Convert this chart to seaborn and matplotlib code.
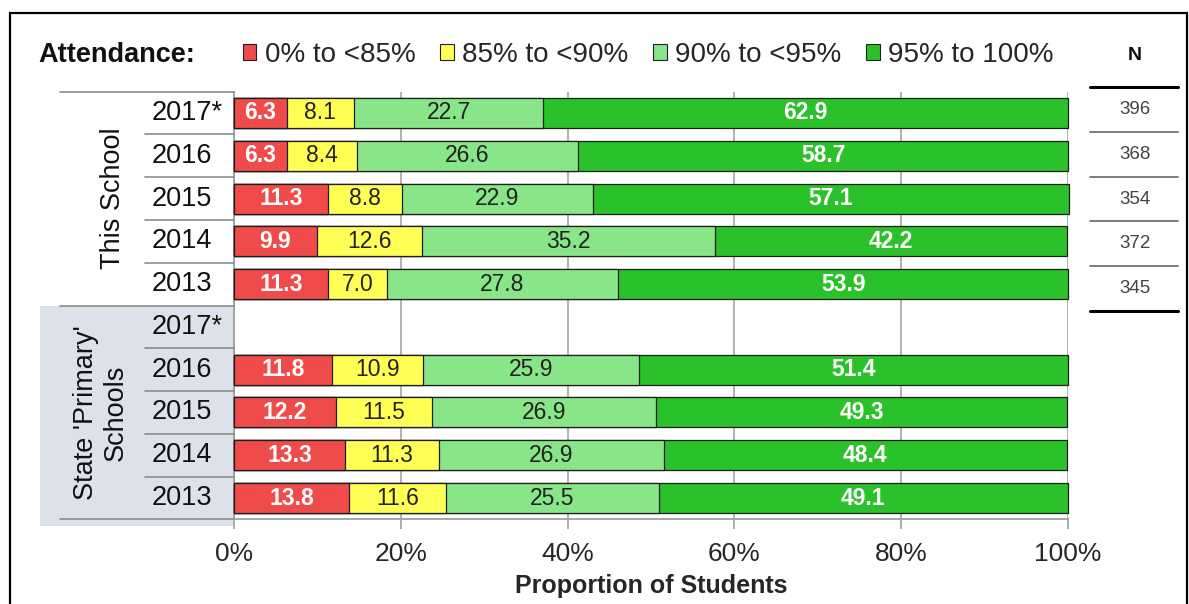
import numpy as np
import pandas as pd
import matplotlib
matplotlib.use("Agg")
import matplotlib.pyplot as plt
import seaborn as sns
from matplotlib.patches import Rectangle, Patch
from matplotlib.lines import Line2D
import matplotlib.transforms as mtransforms

# ---------------- data ----------------
groups = ["This School", "State 'Primary'\nSchools"]
years = ["2017*", "2016", "2015", "2014", "2013"]
bands = ["0% to <85%", "85% to <90%", "90% to <95%", "95% to 100%"]

school_lt85 = [6.3, 6.3, 11.3, 9.9, 11.3]
school_85_90 = [8.1, 8.4, 8.8, 12.6, 7.0]
school_90_95 = [22.7, 26.6, 22.9, 35.2, 27.8]
school_95_100 = [62.9, 58.7, 57.1, 42.2, 53.9]

state_lt85 = [None, 11.8, 12.2, 13.3, 13.8]
state_85_90 = [None, 10.9, 11.5, 11.3, 11.6]
state_90_95 = [None, 25.9, 26.9, 26.9, 25.5]
state_95_100 = [None, 51.4, 49.3, 48.4, 49.1]

n_students = [396, 368, 354, 372, 345]
n_header = "N"

x_ticks = [0, 20, 40, 60, 80, 100]
x_ticklabels = ["0%", "20%", "40%", "60%", "80%", "100%"]
x_label = "Proportion of Students"
legend_title = "Attendance:"

# ---------------- styles ----------------
colors = ["#f04b4b", "#ffff55", "#88e588", "#2bc12b"]
label_colors = ["white", "#222222", "#222222", "white"]
label_weights = ["bold", "normal", "normal", "bold"]

sns.set_style("white")
plt.rcParams["font.family"] = ["Liberation Sans", "DejaVu Sans"]

W, H = 1189, 604
fig = plt.figure(figsize=(W / 100, H / 100), dpi=100)
ax = fig.add_axes([234 / W, 1 - 519.4 / H, (1068 - 234) / W, (519.4 - 91.6) / H])

# ---------------- long table ----------------
series = {
    0: [school_lt85, school_85_90, school_90_95, school_95_100],
    1: [state_lt85, state_85_90, state_90_95, state_95_100],
}
row_ids = []
records = []
for g in range(2):
    for yi, yr in enumerate(years):
        rid = f"{g}|{yr}"
        row_ids.append(rid)
        start = 0.0
        for b in range(4):
            v = series[g][b][yi]
            if v is None:
                continue
            records.append(dict(row=rid, band=b, value=v, start=start, end=start + v))
            start += v
df = pd.DataFrame(records)

# stacked bars: overlay cumulative ends, longest first
for b in [3, 2, 1, 0]:
    sub = df[df["band"] == b]
    sns.barplot(data=sub, x="end", y="row", order=row_ids, orient="h",
                color=colors[b], saturation=1, edgecolor="#1e1e1e", linewidth=0.9,
                width=0.7, errorbar=None, ax=ax, zorder=3)
for p in ax.patches:
    p.set_clip_on(False)

# segment labels
pos = {rid: i for i, rid in enumerate(row_ids)}
for _, r in df.iterrows():
    b = int(r["band"])
    ax.text((r["start"] + r["end"]) / 2, pos[r["row"]], f"{r['value']:.1f}",
            ha="center", va="center", fontsize=16.5, color=label_colors[b],
            fontweight=label_weights[b], zorder=5)

ax.set_xlim(0, 100)
ax.set_ylim(9.5, -0.5)
ax.set_yticks([])
ax.set_ylabel("")
ax.set_xticks(x_ticks)
ax.set_xticklabels(x_ticklabels, fontsize=19)
ax.set_xlabel(x_label, fontsize=18, fontweight="bold", labelpad=6)
ax.tick_params(axis="x", bottom=True, length=7, width=1.2, color="#a0a0a0", pad=9)
ax.grid(axis="x", color="#a6a6a6", lw=1.2)
ax.grid(axis="y", visible=False)
ax.set_axisbelow(True)
for s in ["top", "right"]:
    ax.spines[s].set_visible(False)
for s in ["left", "bottom"]:
    ax.spines[s].set_color("#a0a0a0")
    ax.spines[s].set_linewidth(1.3)

# ---------------- label panel ----------------
trans = mtransforms.blended_transform_factory(fig.transFigure, ax.transData)
fig.add_artist(Rectangle((40 / W, 4.5), (234 - 40) / W, 5.15, transform=trans,
                         facecolor="#dde1e9", edgecolor="none", zorder=-1))
line_c = "#8c8c8c"
for b in [-0.5, 4.5, 9.5]:
    fig.add_artist(Line2D([60 / W, 234 / W], [b, b], transform=trans, color=line_c, lw=1.2))
for g in range(2):
    for k in range(1, 5):
        yb = g * 5 + k - 0.5
        fig.add_artist(Line2D([145 / W, 234 / W], [yb, yb], transform=trans, color=line_c, lw=1.2))
for i, rid in enumerate(row_ids):
    ax.text(152 / W, i, rid.split("|")[1], transform=trans, ha="left", va="center",
            fontsize=19.5, color="#111111")
ax.text(113 / W, 2, groups[0], transform=trans, rotation=90, ha="center", va="center",
        fontsize=19.5, color="#111111")
ax.text(101 / W, 7, groups[1], transform=trans, rotation=90, ha="center", va="center",
        fontsize=19.5, color="#111111", multialignment="center", linespacing=1.2)

# ---------------- N table ----------------
fig.text(1135 / W, 1 - 55 / H, n_header, ha="center", va="center", fontsize=14,
         fontweight="bold", color="#111111")
row_h = 44.8
top_px = 87
for i, n in enumerate(n_students):
    fig.text(1135 / W, 1 - (top_px + row_h * (i + 0.5)) / H, str(n), ha="center",
             va="center", fontsize=13.5, color="#444444")
for k in range(6):
    ypx = top_px + row_h * k
    thick = k in (0, 5)
    fig.add_artist(Line2D([1090 / W, 1178 / W], [1 - ypx / H] * 2, transform=fig.transFigure,
                          color="black" if thick else "#666666", lw=2.2 if thick else 1.2))

# ---------------- legend ----------------
fig.text(38 / W, 1 - 55 / H, legend_title, ha="left", va="center", fontsize=19.5,
         fontweight="bold", color="#111111")
handles = [Patch(facecolor=c, edgecolor="#222222", lw=0.8) for c in colors]
fig.legend(handles, bands, loc="center left", bbox_to_anchor=(243 / W, 1 - 55 / H),
           ncol=4, frameon=False, fontsize=20.0, handlelength=0.48, handleheight=0.48,
           handletextpad=0.3, columnspacing=0.9, borderpad=0, borderaxespad=0)

# ---------------- frame ----------------
fig.add_artist(Rectangle((10 / W, -0.05), (1187 - 10) / W, (1 - 13 / H) + 0.05,
                         transform=fig.transFigure, fill=False, edgecolor="black", lw=1.6))

fig.savefig("out.png", dpi=100)
